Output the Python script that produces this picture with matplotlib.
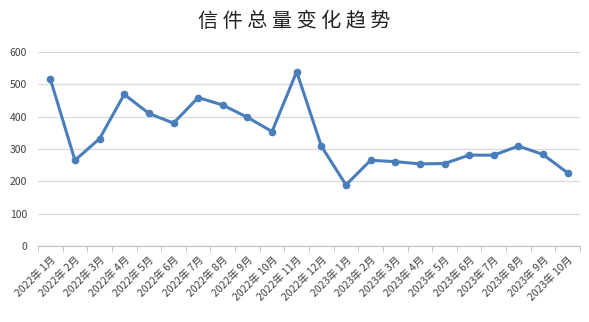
import matplotlib
matplotlib.use("Agg")
import matplotlib.pyplot as plt
import numpy as np

plt.rcParams['font.family'] = ['Noto Sans CJK SC', 'DejaVu Sans']

months = ["2022年 1月", "2022年 2月", "2022年 3月", "2022年 4月", "2022年 5月", "2022年 6月",
          "2022年 7月", "2022年 8月", "2022年 9月", "2022年 10月", "2022年 11月", "2022年 12月",
          "2023年 1月", "2023年 2月", "2023年 3月", "2023年 4月", "2023年 5月", "2023年 6月",
          "2023年 7月", "2023年 8月", "2023年 9月", "2023年 10月"]
values = [517, 265, 332, 469, 410, 380, 459, 436, 398, 354, 539, 309,
          189, 265, 261, 254, 255, 281, 281, 309, 283, 226]
yticks = [0, 100, 200, 300, 400, 500, 600]

fig = plt.figure(figsize=(5.89, 3.22), dpi=100)
ax = fig.add_axes([38/589, 1-246/322, (580-38)/589, (246-52)/322])

x = np.arange(len(months))
ax.plot(x, values, color='#4A7EBB', lw=2.2, marker='o', ms=4.5, zorder=3)

ax.set_xlim(-0.5, len(months)-0.5)
ax.set_ylim(0, 600)
ax.set_yticks(yticks)
ax.yaxis.grid(True, color='#D9D9D9', lw=0.9)
ax.set_axisbelow(True)
for s in ['top', 'right', 'left']:
    ax.spines[s].set_visible(False)
ax.spines['bottom'].set_color('#BFBFBF')
ax.tick_params(axis='y', length=0, labelsize=7.5, labelcolor='#404040', pad=8)
ax.set_xticks(x)
ax.set_xticklabels(months, rotation=45, ha='right', rotation_mode='anchor', fontsize=7.5, color='#404040')
ax.tick_params(axis='x', which='major', length=0, pad=6)
ax.set_xticks(np.arange(-0.5, len(months)), minor=True)
ax.tick_params(axis='x', which='minor', length=4, color='#BFBFBF')

fig.text(0.5, 1-21/322, "信 件 总 量 变 化 趋 势", ha='center', va='center', fontsize=14.5, color='#222222')

fig.savefig("out.png", dpi=100)
